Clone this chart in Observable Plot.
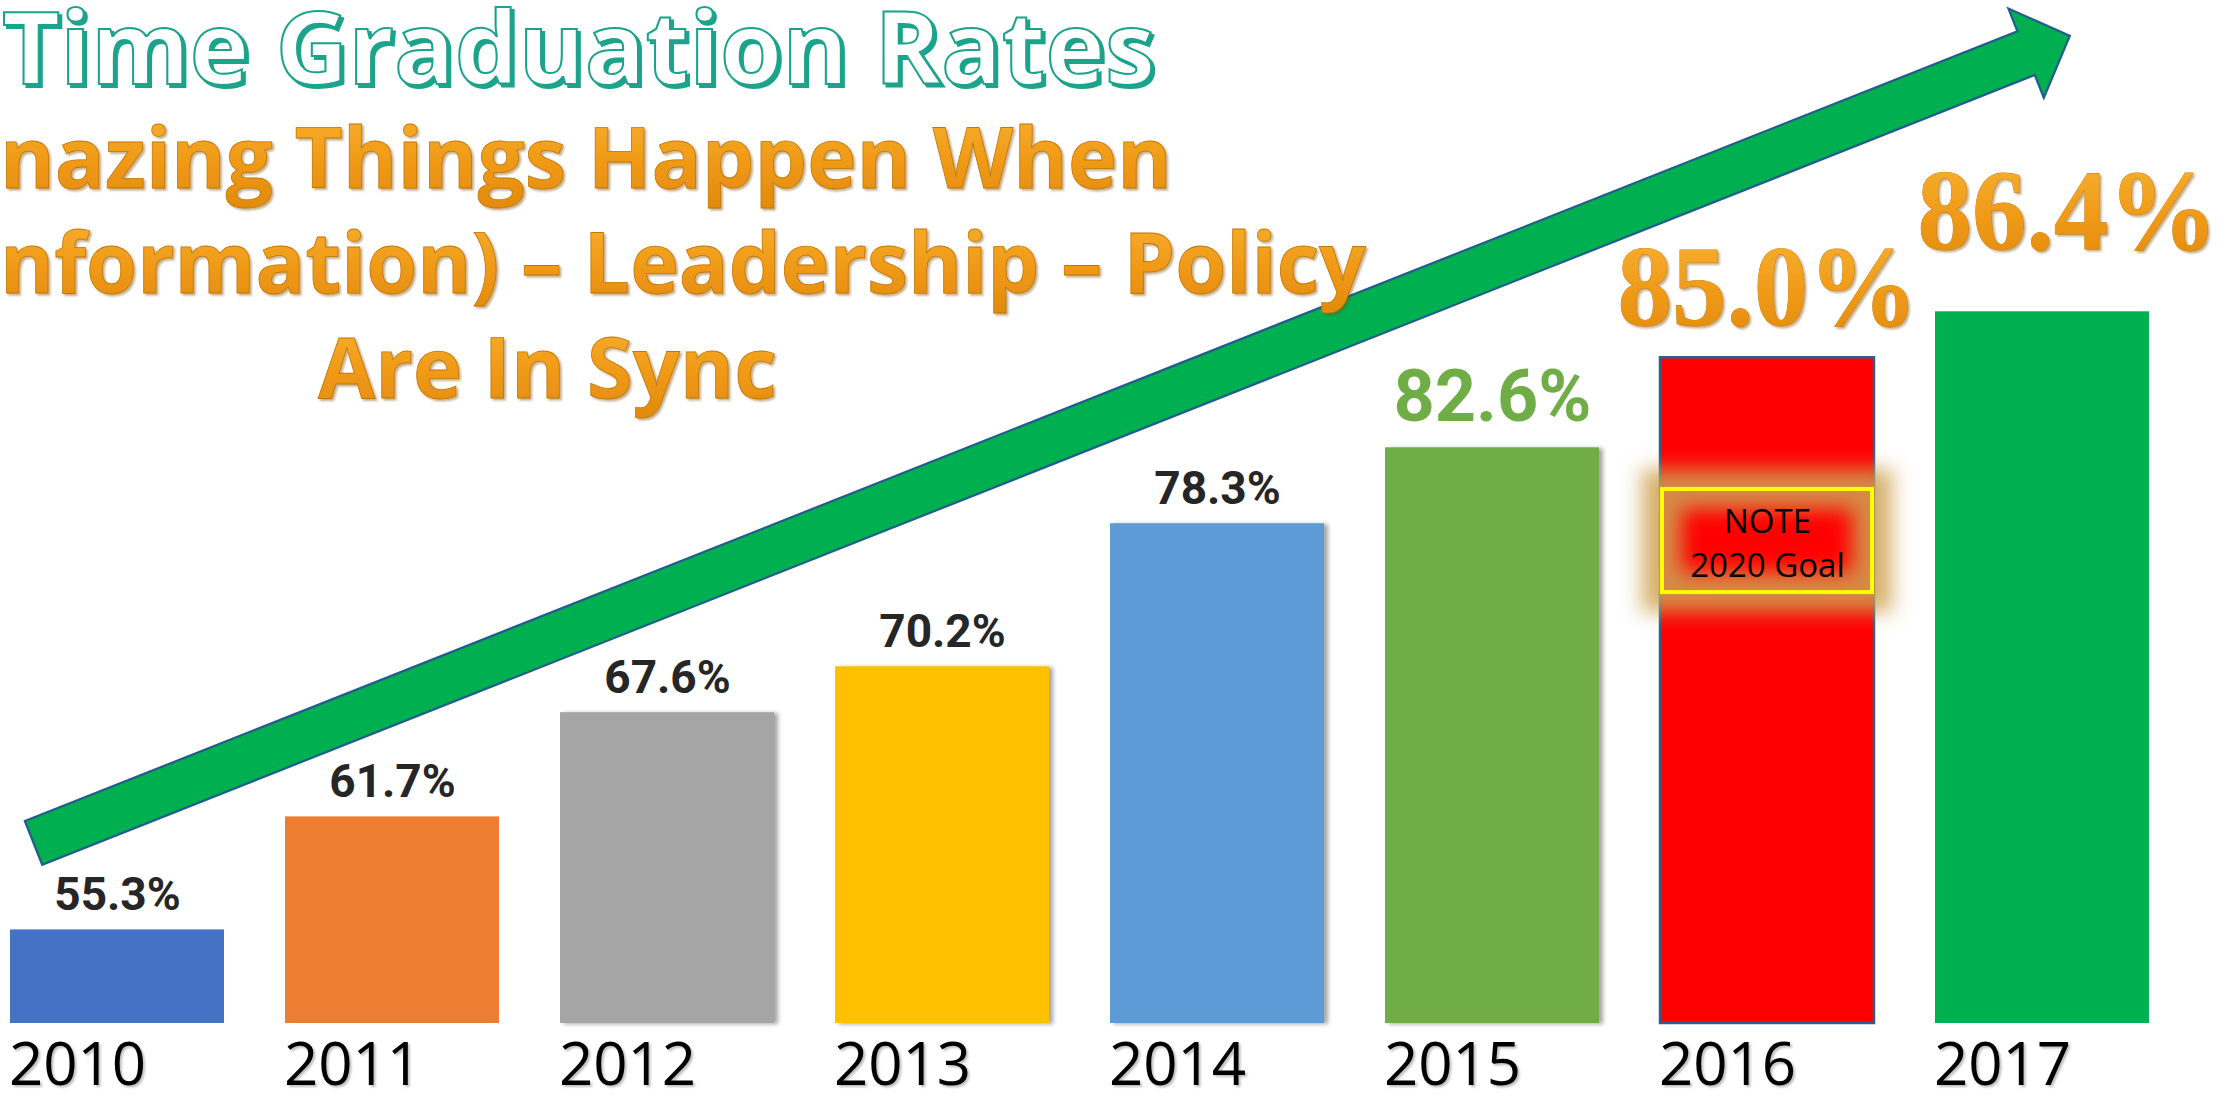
<!DOCTYPE html>
<html>
<head>
<meta charset="utf-8">
<script src="https://cdn.jsdelivr.net/npm/d3@7"></script>
<script src="https://cdn.jsdelivr.net/npm/@observablehq/plot@0.6"></script>
<style>
  html, body { margin: 0; padding: 0; background: #ffffff; overflow: hidden; }
  #chart { position: relative; width: 2235px; height: 1096px; }
</style>
</head>
<body>
<svg width="0" height="0" style="position:absolute">
  <defs>
    <linearGradient id="orangeGrad" x1="0" y1="0" x2="0" y2="1">
      <stop offset="0" stop-color="#F8B535"/>
      <stop offset="0.55" stop-color="#F09A17"/>
      <stop offset="1" stop-color="#E0880B"/>
    </linearGradient>
    <filter id="orangeShadow" x="-5%" y="-10%" width="110%" height="130%">
      <feDropShadow dx="2" dy="2" stdDeviation="1" flood-color="#7a4800" flood-opacity="0.45"/>
    </filter>
    <filter id="tealShadow" x="-5%" y="-10%" width="110%" height="130%">
      <feOffset in="SourceAlpha" dx="3" dy="3" result="off"/>
      <feFlood flood-color="#1BA38B"/>
      <feComposite in2="off" operator="in" result="sh"/>
      <feMerge><feMergeNode in="sh"/><feMergeNode in="SourceGraphic"/></feMerge>
    </filter>
    <filter id="barShadow" x="-5%" y="-5%" width="115%" height="110%">
      <feDropShadow dx="4" dy="1" stdDeviation="2" flood-color="#000" flood-opacity="0.35"/>
    </filter>
    <filter id="yearShadow" x="-5%" y="-10%" width="115%" height="130%">
      <feDropShadow dx="2" dy="2" stdDeviation="1" flood-color="#000" flood-opacity="0.25"/>
    </filter>
    <filter id="glowBlur" x="-60%" y="-100%" width="220%" height="300%">
      <feGaussianBlur stdDeviation="10"/>
    </filter>
  </defs>
</svg>
<div id="chart"></div>
<script>
// ---- data ----
const years = ["2010", "2011", "2012", "2013", "2014", "2015", "2016", "2017"];
const rates = [55.3, 61.7, 67.6, 70.2, 78.3, 82.6, 85.0, 86.4];
// bar tops as drawn in the original (the 2016 and 2017 bars are drawn taller than their labels)
const barTops = [55.3, 61.7, 67.6, 70.2, 78.3, 82.6, 87.7, 90.3];
const barColors = ["#4472C4", "#ED7D31", "#A5A5A5", "#FFC000", "#5B9BD5", "#70AD47", "#FF0000", "#00B050"];
const titleText = "Time Graduation Rates";
const subtitleLines = ["nazing Things Happen When", "nformation) \u2013 Leadership \u2013 Policy", "Are In Sync"];
const noteYear = "2016";
const noteLines = ["NOTE", "2020 Goal"];

// table built from the arrays
const data = years.map((year, i) => ({year, rate: rates[i], top: barTops[i]}));
const note = [{year: noteYear, label: noteLines.join("\n")}];
const fmt = v => v.toFixed(1) + "%";

const marks = [
  ["bars", Plot.barY(data, {x: "year", y1: 50, y2: "top", fill: "year", ariaDescription: "bars"})],
  ["bar-outline", Plot.barY(data, {filter: d => d.year === noteYear, x: "year", y1: 50, y2: "top", fill: "none",
    stroke: "#2B5F8E", strokeWidth: 2.5, ariaDescription: "bar-outline"})],
  ["note-glow", Plot.barY(note, {x: "year", y1: 74.4, y2: 80.24, fill: "none", stroke: "#CFA252",
    strokeWidth: 40, strokeOpacity: 0.85, insetLeft: 2, insetRight: 2, ariaDescription: "note-glow"})],
  ["note-box", Plot.barY(note, {x: "year", y1: 74.4, y2: 80.24, fill: "none", stroke: "#FFFF00",
    strokeWidth: 4, insetLeft: 2, insetRight: 2, ariaDescription: "note-box"})],
  ["note-text", Plot.text(note, {x: "year", y: 75.31, text: "label", lineAnchor: "bottom", lineHeight: 1.333,
    fontSize: 33, fontFamily: "Open Sans", fill: "#000000", ariaDescription: "note-text"})],
  ["small-labels", Plot.text(data, {filter: d => +d.year <= 2014, x: "year", y: "top", text: d => fmt(d.rate),
    lineAnchor: "bottom", dy: -20, fontSize: 46, fontWeight: 700, fontFamily: "Roboto",
    fill: "#262626", ariaDescription: "small-labels"})],
  ["label-2015", Plot.text(data, {filter: d => d.year === "2015", x: "year", y: "top", text: d => fmt(d.rate),
    lineAnchor: "bottom", dy: -27, fontSize: 72, fontWeight: 700, fontFamily: "Roboto",
    fill: "#70AD47", ariaDescription: "label-2015"})],
  ["label-2016", Plot.text(data, {filter: d => d.year === "2016", x: "year", y: "top", text: d => fmt(d.rate),
    lineAnchor: "bottom", dy: -33, fontSize: 114, fontWeight: 700, fontFamily: "Liberation Serif",
    fill: "url(#orangeGrad)", stroke: "#C27705", strokeWidth: 0.8, ariaDescription: "label-2016"})],
  ["label-2017", Plot.text(data, {filter: d => d.year === "2017", x: "year", y: "top", text: d => fmt(d.rate),
    lineAnchor: "bottom", dx: 25, dy: -63, fontSize: 114, fontWeight: 700, fontFamily: "Liberation Serif",
    fill: "url(#orangeGrad)", stroke: "#C27705", strokeWidth: 0.8, ariaDescription: "label-2017"})],
  ["year-labels", Plot.text(years, {x: d => d, frameAnchor: "bottom", lineAnchor: "bottom", dy: 61, dx: -40,
    fontSize: 60, fontFamily: "Open Sans", fill: "#000000", ariaDescription: "year-labels"})]
];

const plot = Plot.plot({
  width: 2235,
  height: 1096,
  marginLeft: 8,
  marginRight: 84,
  marginTop: 140,
  marginBottom: 73,
  x: {domain: years, paddingInner: 0.223, paddingOuter: 0, axis: null},
  y: {domain: [50, 100], axis: null},
  color: {domain: years, range: barColors},
  style: {background: "transparent", overflow: "visible"},
  marks: marks.map(m => m[1])
});

document.getElementById("chart").appendChild(plot);
const svg = d3.select(plot);

// locate each mark's group: by aria-description if present, else by render order
const groups = {};
const topGroups = Array.from(plot.children).filter(el => el.tagName.toLowerCase() === "g");
marks.forEach(([name], i) => {
  groups[name] = plot.querySelector(`g[aria-description="${name}"]`) || topGroups[i];
});

// effects
if (groups["bars"]) d3.select(groups["bars"]).selectAll("rect").each(function (d, i) {
  if (i >= 2 && i <= 5) this.setAttribute("filter", "url(#barShadow)");
});
if (groups["note-glow"]) groups["note-glow"].setAttribute("filter", "url(#glowBlur)");
["label-2016", "label-2017"].forEach(k => {
  if (groups[k]) d3.select(groups[k]).selectAll("text")
    .attr("textLength", 300).attr("lengthAdjust", "spacingAndGlyphs").attr("filter", "url(#orangeShadow)");
});
if (groups["year-labels"]) d3.select(groups["year-labels"]).selectAll("text").attr("filter", "url(#yearShadow)");

// ---- trend arrow, anchored through the plot's own scales ----
const xs = plot.scale("x"), ys = plot.scale("y");
const X = xs.apply ? v => xs.apply(v)
  : d3.scaleBand(xs.domain, xs.range).paddingInner(xs.paddingInner).paddingOuter(xs.paddingOuter).align(xs.align ?? 0.5);
const Y = ys.apply ? v => ys.apply(v) : d3.scaleLinear(ys.domain, ys.range);
const bw = xs.bandwidth;
const arrowFrom = {year: "2010", along: 0.11, value: 60.2};
const arrowTo = {year: "2017", along: 0.63, value: 105.9};
const tail = [X(arrowFrom.year) + arrowFrom.along * bw, Y(arrowFrom.value)];
const tip = [X(arrowTo.year) + arrowTo.along * bw, Y(arrowTo.value)];
const len = Math.hypot(tip[0] - tail[0], tip[1] - tail[1]);
const u = [(tip[0] - tail[0]) / len, (tip[1] - tail[1]) / len];
const n = [-u[1], u[0]];
const headLen = 47, shaftHalf = 23.5, headHalf = 48;
const N = [tip[0] - headLen * u[0], tip[1] - headLen * u[1]];
const P = (p, k) => [p[0] + k * n[0], p[1] + k * n[1]];
const pts = [P(tail, -shaftHalf), P(N, -shaftHalf), P(N, -headHalf), tip, P(N, headHalf), P(N, shaftHalf), P(tail, shaftHalf)];
svg.append("path")
  .attr("d", "M" + pts.map(p => p.join(",")).join("L") + "Z")
  .attr("fill", "#00B050").attr("stroke", "#215D8C").attr("stroke-width", 2.2)
  .attr("stroke-linejoin", "miter");

// ---- headline text (on top) ----
const tg = svg.append("g").attr("aria-label", "titles").attr("text-anchor", "start");
tg.append("text").text(titleText)
  .attr("x", 2).attr("y", 84).attr("font-family", "Open Sans").attr("font-weight", 700)
  .attr("font-size", 100).attr("textLength", 1153).attr("lengthAdjust", "spacingAndGlyphs")
  .attr("text-anchor", "start")
  .attr("fill", "#ffffff").attr("stroke", "#1BA38B").attr("stroke-width", 2)
  .attr("filter", "url(#tealShadow)");

const subSpecs = [
  {x: 0, y: 188, len: 1172},
  {x: 0, y: 293, len: 1366},
  {x: 318, y: 398, len: 459}
];
subtitleLines.forEach((line, i) => {
  const s = subSpecs[i];
  tg.append("text").text(line)
    .attr("x", s.x).attr("y", s.y).attr("font-family", "Open Sans").attr("font-weight", 700)
    .attr("font-size", 84).attr("textLength", s.len).attr("lengthAdjust", "spacingAndGlyphs")
    .attr("text-anchor", "start")
    .attr("fill", "url(#orangeGrad)").attr("stroke", "#C27705").attr("stroke-width", 0.8)
    .attr("filter", "url(#orangeShadow)");
});
</script>
</body>
</html>
